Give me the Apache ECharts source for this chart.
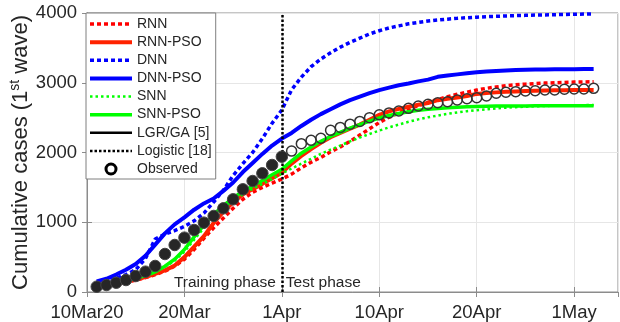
<!DOCTYPE html>
<html>
<head>
<meta charset="utf-8">
<script src="https://cdn.jsdelivr.net/npm/echarts@6/dist/echarts.min.js"></script>
<style>
html,body{margin:0;padding:0;background:#fff;}
#chart{width:620px;height:322px;}
</style>
</head>
<body>
<div id="chart"></div>
<script>
// ---- data (day index 1..52 from 10 Mar 2020) ----
const dayIndex = [1,2,3,4,5,6,7,8,9,10,11,12,13,14,15,16,17,18,19,20,21,22,23,24,25,26,27,28,29,30,31,32,33,34,35,36,37,38,39,40,41,42,43,44,45,46,47,48,49,50,51,52];
const xTickValues = [0,10,20,30,40,50];
const xTickLabels = ['10Mar20','20Mar','1Apr','10Apr','20Apr','1May'];
const TRAIN_END = 20;

const rnn = [80,95,115,140,170,205,250,300,370,470,610,770,920,1060,1200,1330,1430,1500,1560,1620,
  1690,1780,1860,1930,2010,2080,2160,2250,2340,2430,2505,2570,2625,2670,2720,2760,2800,2835,2865,2895,2920,2940,2958,2970,2980,2988,2995,3000,3005,3009,3012,3015];
const rnnPso = [80,100,125,150,180,215,260,310,380,500,650,800,990,1150,1290,1400,1475,1550,1630,1710,
  1840,1950,2050,2140,2220,2280,2340,2400,2470,2540,2590,2625,2655,2685,2710,2750,2770,2790,2810,2840,2852,2862,2870,2876,2881,2885,2888,2891,2893,2895,2896,2897];
const dnn = [140,170,200,250,320,480,760,830,880,940,1020,1130,1290,1460,1670,1840,2000,2200,2420,2610,
  2900,3080,3230,3340,3430,3510,3580,3640,3700,3746,3785,3815,3845,3865,3885,3900,3912,3923,3932,3940,3947,3953,3958,3962,3966,3970,3973,3976,3979,3982,3985,3988];
const dnnPso = [150,190,250,320,400,520,680,840,970,1070,1180,1270,1340,1450,1570,1720,1850,1980,2100,2200,
  2280,2380,2470,2550,2620,2690,2750,2800,2850,2895,2930,2965,2990,3020,3045,3085,3105,3120,3135,3150,3160,3168,3176,3182,3186,3189,3191,3193,3194,3195,3196,3197];
const snn = [85,105,130,155,190,230,285,360,450,580,750,920,1070,1200,1310,1400,1480,1550,1620,1700,
  1770,1840,1910,1980,2040,2100,2160,2215,2265,2315,2360,2400,2440,2475,2505,2530,2555,2575,2592,2607,2620,2632,2642,2650,2657,2663,2667,2671,2674,2677,2679,2681];
const snnPso = [90,110,135,160,195,235,290,370,470,610,790,960,1110,1240,1350,1440,1520,1600,1680,1760,
  1880,1990,2080,2160,2230,2290,2350,2400,2450,2495,2530,2560,2585,2605,2620,2632,2642,2650,2656,2660,2663,2665,2666,2667,2668,2669,2669,2670,2670,2671,2671,2671];
const observed = [76,100,133,172,229,291,373,545,674,779,889,994,1090,1200,1329,1472,1591,1702,1821,1940,
  2020,2127,2174,2204,2318,2360,2406,2446,2500,2540,2568,2595,2633,2667,2691,2714,2728,2753,2771,2786,2810,2849,2863,2872,2882,2886,2896,2896,2906,2910,2910,2920];

// ---- chart ----
const FONT = 'Liberation Sans, Arial, Helvetica, sans-serif';
const TXT = '#262626';
const AX = '#8c8c8c';
const NOSYM = { color: 'rgba(0,0,0,0)', borderColor: 'rgba(0,0,0,0)', borderWidth: 0 };
const pair = arr => dayIndex.map((d, i) => [d, arr[i]]);

function lineSeries(name, arr, color, width, dash) {
  return {
    name, type: 'line', data: arr ? pair(arr) : [],
    symbol: 'none', showSymbol: false, animation: false,
    lineStyle: { color, width, type: dash || 'solid', cap: 'butt' },
    itemStyle: NOSYM,
    emphasis: { disabled: true }
  };
}
const lineNames = ['RNN','RNN-PSO','DNN','DNN-PSO','SNN','SNN-PSO','LGR/GA [5]','Logistic [18]'];

const chart = echarts.init(document.getElementById('chart'), null, { renderer: 'canvas' });

const option = {
  animation: false,
  backgroundColor: '#fff',
  textStyle: { fontFamily: FONT },
  grid: { left: 87, right: 2, top: 13, bottom: 30, show: true, borderColor: AX, borderWidth: 1,
          containLabel: false, outerBoundsMode: 'none' },
  legend: {
    orient: 'vertical', left: 86, top: 13,
    padding: [4, 4, 3, 2],
    itemWidth: 42, itemHeight: 10, itemGap: 4.125,
    backgroundColor: '#fff', borderColor: '#7f7f7f', borderWidth: 1, borderRadius: 0,
    textStyle: { fontSize: 14, color: TXT, fontFamily: FONT, lineHeight: 14 },
    lineStyle: { width: 'inherit', type: 'inherit', color: 'inherit' },
    selectedMode: false,
    data: lineNames.map(n => ({ name: n, itemStyle: NOSYM })).concat([
      { name: 'Observed', icon: 'circle', itemStyle: { color: '#fff', borderColor: '#000', borderWidth: 3, opacity: 1 } }])
  },
  xAxis: [{
    type: 'value', min: 0, max: 54.5, interval: 10,
    axisLine: { show: true, lineStyle: { color: AX } },
    axisTick: { show: true, inside: true, length: 5, lineStyle: { color: AX } },
    splitLine: { show: true, lineStyle: { color: '#e6e6e6', width: 1 } },
    axisLabel: {
      fontSize: 18.5, color: TXT, fontFamily: FONT, margin: 11, showMaxLabel: false,
      formatter: v => { const k = xTickValues.indexOf(v); return k >= 0 ? xTickLabels[k] : ''; }
    }
  }, {
    type: 'value', position: 'top', min: 0, max: 54.5, interval: 10,
    axisLine: { show: true, lineStyle: { color: AX } },
    axisTick: { show: true, inside: true, length: 5, lineStyle: { color: AX } },
    axisLabel: { show: false }, splitLine: { show: false }
  }],
  yAxis: [{
    type: 'value', min: 0, max: 4000, interval: 1000,
    axisLine: { show: true, lineStyle: { color: AX } },
    axisTick: { show: true, inside: true, length: 5, lineStyle: { color: AX } },
    splitLine: { show: true, lineStyle: { color: '#e6e6e6', width: 1 } },
    axisLabel: { fontSize: 18.5, color: TXT, fontFamily: FONT, margin: 10, formatter: v => String(v) },
    name: 'Cumulative cases (1{sup|st} wave)',
    nameLocation: 'middle', nameGap: 53, nameMoveOverlap: false,
    nameTextStyle: {
      fontSize: 22, color: TXT, fontFamily: FONT, lineHeight: 26,
      rich: { sup: { fontSize: 14, color: TXT, fontFamily: FONT, verticalAlign: 'top', lineHeight: 14 } }
    }
  }, {
    type: 'value', position: 'right', min: 0, max: 4000, interval: 1000,
    axisLine: { show: true, lineStyle: { color: AX } },
    axisTick: { show: true, inside: true, length: 5, lineStyle: { color: AX } },
    axisLabel: { show: false }, splitLine: { show: false }
  }],
  series: [
    lineSeries('RNN', rnn, '#ff0000', 3.5, [4, 3]),
    lineSeries('RNN-PSO', rnnPso, '#ff2200', 4),
    lineSeries('DNN', dnn, '#0000ff', 3.5, [4, 3]),
    lineSeries('DNN-PSO', dnnPso, '#0000ff', 4),
    lineSeries('SNN', snn, '#00ff00', 2.5, [2.5, 3]),
    lineSeries('SNN-PSO', snnPso, '#00ff00', 3.5),
    lineSeries('LGR/GA [5]', null, '#000000', 2.5),
    lineSeries('Logistic [18]', null, '#000000', 2.5, [2.5, 2]),
    {
      name: 'Observed', type: 'scatter', animation: false,
      symbol: 'circle', symbolSize: 10,
      itemStyle: { color: 'rgba(0,0,0,0)', borderColor: '#333333', borderWidth: 1.5, opacity: 1 },
      emphasis: { disabled: true },
      data: dayIndex.map((d, i) => d <= TRAIN_END
        ? { value: [d, observed[i]], symbolSize: 11.5, itemStyle: { color: '#262626', borderColor: '#444444', borderWidth: 1, opacity: 1 } }
        : { value: [d, observed[i]] }),
      markLine: {
        silent: true, symbol: 'none', animation: false,
        label: { show: false },
        lineStyle: { color: '#000', width: 2.5, type: [2.5, 2] },
        data: [{ xAxis: TRAIN_END }]
      },
      z: 5
    }
  ]
};
chart.setOption(option);

// phase annotations anchored to the training/test boundary
const p = chart.convertToPixel({ xAxisIndex: 0, yAxisIndex: 0 }, [TRAIN_END, 0]);
chart.setOption({
  graphic: [
    { type: 'text', x: p[0] - 6, y: p[1] - 1, z: 100,
      style: { text: 'Training phase', font: '15.5px ' + FONT, fill: TXT, align: 'right', verticalAlign: 'bottom' } },
    { type: 'text', x: p[0] + 4, y: p[1] - 1, z: 100,
      style: { text: 'Test phase', font: '15.5px ' + FONT, fill: TXT, align: 'left', verticalAlign: 'bottom' } }
  ]
});
</script>
</body>
</html>
